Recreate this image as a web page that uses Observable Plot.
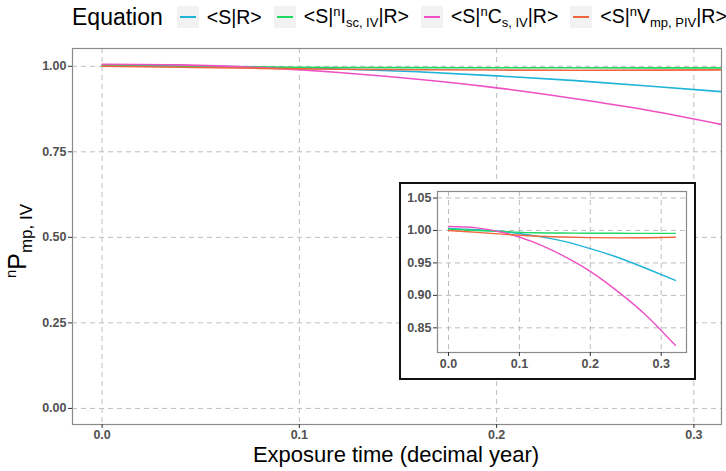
<!DOCTYPE html>
<html><head><meta charset="utf-8">
<script src="https://cdn.jsdelivr.net/npm/d3@7"></script>
<script src="https://cdn.jsdelivr.net/npm/@observablehq/plot@0.6"></script>
<style>
body{margin:0;background:#fff;font-family:"Liberation Sans",Arial,sans-serif;}
#wrap{position:relative;width:726px;height:471px;overflow:hidden;background:#fff}
#legend{position:absolute;left:72px;top:4px;height:26px;display:flex;align-items:center;white-space:nowrap}
#legend .ttl{font-size:23px;color:#000;margin-right:14px}
#legend .key{width:22px;height:22px;background:#f2f2f2;position:relative;margin-right:8px}
#legend .key i{position:absolute;left:3px;right:3px;top:10px;height:2px;display:block}
#legend .lab{font-size:19.5px;color:#000;margin-right:12px}
#legend sup{font-size:13px;vertical-align:7px}
#legend sub{font-size:13px;vertical-align:-4px}
#main{position:absolute;left:0;top:36px}
#insetBox{position:absolute;left:399px;top:182px;width:293px;height:194px;border:2px solid #111;background:#fff}
#inset{position:absolute;left:400px;top:183px}
</style>
</head><body>
<div id="wrap">
  <div id="legend"></div>
  <div id="main"></div>
  <div id="insetBox"></div>
  <div id="inset"></div>
</div>
<script>
// ---- data ----
const times = [0, 0.04, 0.08, 0.12, 0.16, 0.20, 0.24, 0.28, 0.32];
const seriesNames = ["<S|R>", "<S|nIsc, IV|R>", "<S|nCs, IV|R>", "<S|nVmp, PIV|R>"];
const seriesColors = ["#1fb3d8", "#1fd862", "#f04fc3", "#f0643e"];
const valuesSR   = [1.003, 1.001, 0.998, 0.992, 0.984, 0.972, 0.958, 0.941, 0.923];
const valuesIsc  = [1.002, 1.000, 0.998, 0.9965, 0.996, 0.9958, 0.9956, 0.9955, 0.9955];
const valuesCs   = [1.006, 1.004, 0.996, 0.982, 0.962, 0.937, 0.905, 0.868, 0.823];
const valuesVmp  = [1.000, 0.997, 0.994, 0.9915, 0.990, 0.989, 0.9885, 0.9888, 0.9895];
// legend label parts: [prefix, superscript, letter, subscript, suffix]
const legendParts = [
  ["<S|R>", "", "", "", ""],
  ["<S|", "n", "I", "sc, IV", "|R>"],
  ["<S|", "n", "C", "s, IV", "|R>"],
  ["<S|", "n", "V", "mp, PIV", "|R>"]
];
const legendTitle = "Equation";
const mainXTicks = [0, 0.1, 0.2, 0.3];
const mainYTicks = [0, 0.25, 0.5, 0.75, 1];
const insetXTicks = [0, 0.1, 0.2, 0.3];
const insetYTicks = [0.85, 0.9, 0.95, 1.0, 1.05];
const xTitle = "Exposure time (decimal year)";

// ---- build rows ----
const allValues = [valuesSR, valuesIsc, valuesCs, valuesVmp];
const rows = [];
seriesNames.forEach((name, i) => times.forEach((t, j) => rows.push({t, v: allValues[i][j], series: name})));

// ---- legend ----
const esc = s => s.replace(/&/g,"&amp;").replace(/</g,"&lt;").replace(/>/g,"&gt;");
const leg = document.getElementById("legend");
let html = `<span class="ttl">${legendTitle}</span>`;
legendParts.forEach((p, i) => {
  html += `<span class="key"><i style="background:${seriesColors[i]}"></i></span>`;
  html += `<span class="lab">${esc(p[0])}${p[1] ? `<sup>${p[1]}</sup>` : ""}${esc(p[2])}${p[3] ? `<sub>${esc(p[3])}</sub>` : ""}${esc(p[4])}</span>`;
});
leg.innerHTML = html;

const gridStyle = {stroke: "#bdbdbd", strokeOpacity: 1, strokeDasharray: "5,4", strokeWidth: 1};
const color = {domain: seriesNames, range: seriesColors};
const tickStyle = {fontFamily: '"Liberation Sans","Arial",sans-serif', fontSize: "12.5px", fontWeight: "bold", color: "#505050", background: "transparent"};

// ---- main plot ----
const main = Plot.plot({
  width: 726, height: 435,
  marginTop: 12, marginLeft: 72, marginRight: 5, marginBottom: 47,
  style: tickStyle,
  x: {domain: [-0.015, 0.314]},
  y: {domain: [-0.047, 1.052]},
  color,
  marks: [
    Plot.gridX(mainXTicks, gridStyle),
    Plot.gridY(mainYTicks, gridStyle),
    Plot.line(rows, {x: "t", y: "v", stroke: "series", z: "series", curve: "natural", strokeWidth: 1.6, clip: true}),
    Plot.frame({stroke: "#8a8a8a", strokeWidth: 1.2}),
    Plot.axisX(mainXTicks, {tickFormat: d3.format(".1f"), tickSize: 4, tickPadding: 2, label: null, stroke: "#333"}),
    Plot.axisY(mainYTicks, {tickFormat: d3.format(".2f"), tickSize: 4, tickPadding: 2, label: null, stroke: "#333"})
  ]
});
document.getElementById("main").appendChild(main);

const svg = d3.select(main);
svg.append("text")
  .attr("x", 396).attr("y", 426)
  .attr("text-anchor", "middle")
  .style("font-family", '"Liberation Sans",sans-serif')
  .style("font-size", "22px").style("font-weight", "normal").style("fill", "#000")
  .text(xTitle);
const yt = svg.append("text")
  .attr("transform", "translate(26,205) rotate(-90)")
  .attr("text-anchor", "middle")
  .style("font-family", '"Liberation Sans",sans-serif')
  .style("font-size", "25px").style("font-weight", "normal").style("fill", "#000");
yt.append("tspan").attr("dy", "-10").style("font-size", "15px").text("n");
yt.append("tspan").attr("dy", "10").text("P");
yt.append("tspan").attr("dy", "6").style("font-size", "17px").text("mp, IV");

// ---- inset ----
const inset = Plot.plot({
  width: 293, height: 194,
  marginTop: 8, marginLeft: 37, marginRight: 7, marginBottom: 25,
  style: tickStyle,
  x: {domain: [-0.0155, 0.3357]},
  y: {domain: [0.812, 1.060]},
  color,
  marks: [
    Plot.gridX(insetXTicks, gridStyle),
    Plot.gridY(insetYTicks, gridStyle),
    Plot.line(rows, {x: "t", y: "v", stroke: "series", z: "series", curve: "natural", strokeWidth: 1.4}),
    Plot.frame({stroke: "#8a8a8a", strokeWidth: 1.2}),
    Plot.axisX(insetXTicks, {tickFormat: d3.format(".1f"), tickSize: 4, tickPadding: 3, label: null, stroke: "#333"}),
    Plot.axisY(insetYTicks, {tickFormat: d3.format(".2f"), tickSize: 4, tickPadding: 2, label: null, stroke: "#333"})
  ]
});
document.getElementById("inset").appendChild(inset);
</script>
</body></html>
